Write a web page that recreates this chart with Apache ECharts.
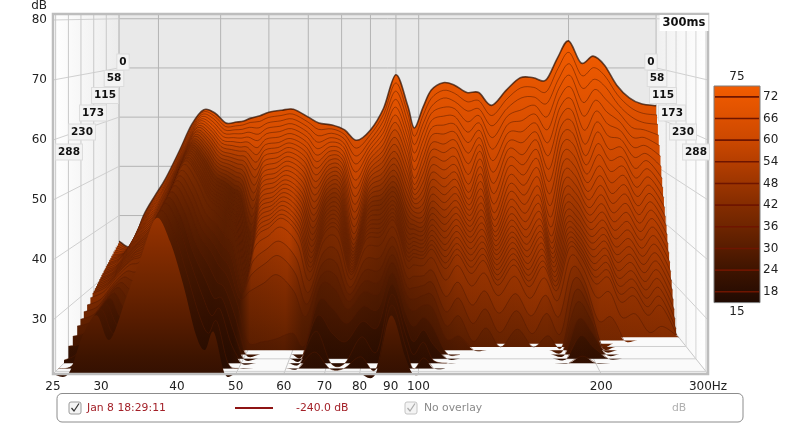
<!DOCTYPE html>
<html><head><meta charset="utf-8">
<style>html,body{margin:0;padding:0;background:#fff}#c{width:800px;height:424px}</style>
<script src="https://cdn.jsdelivr.net/npm/echarts@6/dist/echarts.min.js"></script>
</head><body><div id="c"></div>
<script>
const sliceTimes=[0,5,10,15,20,25,30,35,40,45,50,55,60,65,70,75,80,85,90,95,100,105,110,115,120,130,145,160,175,190,210,230,250,275,300];
const freqs=[25,26.5,28,29.5,31,33,35,37,39,41,43,44.5,46,48,50,53,56,60,63,67,71,75,80,85,90,95,98,102,106,112,118,125,132,140,150,160,170,180,190,200,212,224,236,250,265,280,300];
const f25=[34.8,34.5,34.2,34,33.7,33.5,33.2,33,32.7,32.5,32.2,32,31.8,31.5,31.3,31,30.8,30.5,30.3,30,29.8,29.5,29.3,29,28.8,28.3,27.5,26.8,26,25.3,24.2,23.2,21.5,20,20];
const f26_5=[33.8,33.8,33.8,33.8,33.7,33.6,33.6,33.6,33.6,33.5,33.3,33.2,33,32.7,32.4,32.2,32,31.7,31.5,31.3,31,30.8,30.5,30.3,30,29.5,28.6,27.8,27,26.2,25.2,24,23,21.8,21];
const f28=[40,39.6,39.2,38.8,38.5,38.2,37.8,37.5,37.2,37,36.6,36.3,36,35.7,35.4,35.1,34.8,34.6,34.3,34,33.8,33.5,33.3,33,32.8,32.3,31.6,31,30.4,29.8,29.2,28.7,28.3,27.9,27.5];
const f29_5=[44,43.5,43,42.5,42,41.6,41.2,40.7,40.3,39.9,39.5,39.1,38.7,38.3,38,37.6,37.3,37,36.7,36.4,36,35.8,35.5,35.2,35,34.4,33.7,33.1,32.6,32.2,31.8,31.5,31.2,31,30.8];
const f31=[47.5,47,46.4,45.8,45.3,44.8,44.2,43.7,43.2,42.7,42.2,41.8,41.3,40.8,40.3,39.9,39.5,39,38.6,38.2,37.8,37.3,36.9,36.5,36.1,35.3,34,32.8,31.6,30.5,29.3,28.3,27.6,27,26.7];
const f33=[53,52.5,52,51.4,50.9,50.4,49.8,49.3,48.8,48.3,47.8,47.3,46.8,46.3,45.9,45.4,45,44.5,44.1,43.7,43.3,42.9,42.5,42.1,41.7,41,39.9,38.9,38,37.2,36.3,35.5,34.9,34.2,33.7];
const f35=[58.5,58,57.5,57,56.5,56,55.5,55,54.6,54.1,53.7,53.2,52.8,52.4,52,51.6,51.2,50.8,50.4,50,49.6,49.3,49,48.6,48.3,47.6,46.7,45.8,45,44.3,43.5,42.8,42.2,41.5,40.8];
const f37=[61.5,61.1,60.7,60.3,59.9,59.6,59.2,58.8,58.5,58.1,57.8,57.4,57.1,56.7,56.4,56.1,55.8,55.5,55.2,54.9,54.6,54.3,54,53.8,53.5,53,52.2,51.5,50.9,50.3,49.6,49,48.4,47.7,47];
const f39=[60.8,60.3,59.8,59.3,58.8,58.3,57.9,57.4,57,56.5,56.1,55.6,55.2,54.8,54.4,54,53.6,53.2,52.9,52.5,52.2,51.8,51.5,51.2,50.9,50.3,49.4,48.6,47.9,47.2,46.4,45.7,45,44,43];
const f41=[58.8,58.2,57.6,57,56.4,55.8,55.3,54.7,54.1,53.6,53,52.5,52,51.5,51,50.5,50,49.5,49,48.6,48.1,47.7,47.3,46.9,46.5,45.7,44.5,43.5,42.5,41.7,40.5,39.4,38.3,37,35.8];
const f43=[59,58.3,57.6,56.9,56.2,55.5,54.8,54.1,53.4,52.8,52.2,51.6,51,50.4,49.8,49.2,48.7,48.1,47.6,47.1,46.6,46.1,45.6,45.1,44.6,43.7,42.3,41,39.8,38.7,36.9,34.8,32.5,30,27.5];
const f44_5=[59.2,58.5,57.7,56.9,56.1,55.3,54.5,53.8,53,52.3,51.6,50.9,50.2,49.5,48.8,48.1,47.5,46.9,46.3,45.7,45.1,44.5,44,43.4,42.9,41.8,40.3,38.8,37.4,36,33.9,31.6,29.2,27,25];
const f46=[59.8,59,58.1,57.2,56.3,55.4,54.5,53.6,52.7,51.8,51,50.1,49.3,48.5,47.7,46.9,46.2,45.5,44.8,44.1,43.4,42.8,42.2,41.6,41,39.9,38.3,36.8,35.4,34.1,32.6,31.4,30.3,29,28];
const f48=[60.3,59.2,58,56.8,55.6,54.3,53,51.6,50.2,48.8,47.4,46,44.6,43.2,41.8,40.4,39,37.7,36.4,35.1,33.9,33,32.3,31.8,31.4,31,30.6,30.2,29.7,29,27.5,26,24.5,22,20];
const f50=[61,60,59,58,57,56,55,54,53,52,51,50,49.1,48.2,47.3,46.4,45.5,44.6,43.8,42.9,42.1,41.3,40.5,39.7,39,37.6,35.5,33.5,31,22.5,20,20,20,20,20];
const f53=[61.4,60.4,59.4,58.4,57.4,56.4,55.4,54.5,53.6,52.7,51.8,50.9,50,49.2,48.4,47.6,46.8,46,45.3,44.6,43.9,43.2,42.5,41.8,41.1,39.8,37.8,35.6,32.5,22.5,20,20,20,20,20];
const f56=[61.6,60.7,59.8,58.9,58,57.1,56.2,55.4,54.6,53.8,53,52.2,51.4,50.6,49.8,49,48.3,47.6,46.9,46.2,45.5,44.8,44.1,43.4,42.8,41.4,39.2,37,34,23,20,20,20,20,20];
const f60=[60,59.1,58.2,57.3,56.4,55.5,54.6,53.7,52.8,51.9,51,50.1,49.2,48.3,47.4,46.5,45.7,44.9,44.1,43.3,42.5,41.7,41,40.3,39.6,38.2,36,33.8,31,24,21,20,20,20,20];
const f63=[58.8,57.6,56.4,55.2,54,52.8,51.6,50.4,49.2,48,46.8,45.6,44.4,43.2,42.1,41,39.9,38.8,37.8,36.8,35.8,35,34.2,33.5,32.8,31.5,29.8,28.2,26.5,22,20,20,20,20,20];
const f67=[58.4,57.7,56.9,56.1,55.3,54.5,53.7,52.9,52.1,51.3,50.5,49.7,48.9,48.1,47.3,46.5,45.7,44.9,44.1,43.4,42.7,42,41.3,40.6,40,38.8,37,35.4,33.8,32.3,30.4,28.5,26.5,23.8,21];
const f71=[57.4,56.6,55.8,55,54.3,53.5,52.7,52,51.3,50.5,49.8,49.1,48.4,47.7,47,46.3,45.6,44.9,44.2,43.5,42.9,42.3,41.7,41.1,40.5,39.3,37.6,35.8,34,32,29,25.5,21,20,20];
const f75=[55.3,53.8,52.3,50.8,49.3,47.8,46.3,44.8,43.4,42,40.7,39.4,38.2,37.2,36.4,35.8,35.3,34.8,34.4,34,33.6,33.2,32.9,32.6,32.3,31.7,30.8,30,29.2,28.3,26.5,24,21,20,20];
const f80=[57.4,56.5,55.5,54.6,53.7,52.8,51.9,51,50.1,49.3,48.5,47.7,46.9,46.1,45.4,44.7,44,43.3,42.6,41.9,41.2,40.6,40,39.4,38.8,37.6,35.9,34.3,32.8,31.4,29.5,27.5,25.5,23,20];
const f85=[61.8,60.6,59.4,58.2,57.1,56,54.9,53.8,52.8,51.8,50.8,49.8,48.9,48,47.1,46.2,45.4,44.6,43.8,43,42.2,41.5,40.8,40.1,39.4,38.1,36.2,34.4,32.7,31.1,29,26.5,23,20,20];
const f90=[68.6,67,65.4,63.8,62.3,60.8,59.4,58,56.6,55.3,54,52.8,51.7,50.6,49.6,48.6,47.7,46.9,46.1,45.4,44.7,44.1,43.5,42.9,42.4,41.4,40,38.7,37.6,36.6,35.3,34,32.8,31.7,30.7];
const f95=[62.4,60.9,59.4,57.9,56.5,55.1,53.8,52.4,51,49.7,48.4,47.2,46,44.8,43.7,42.6,41.6,40.6,39.6,38.7,37.8,37.1,36.4,35.8,35.2,34.2,32.9,31.7,30.6,29.6,28.4,27.2,26.1,25,24];
const f98=[57.8,56.2,54.6,53,51.4,49.8,48.3,47.2,46.3,45.5,44.7,44,43.3,42.6,41.9,41.2,40.5,39.8,39.1,38.5,37.9,37.3,36.7,36.1,35.6,34.4,32.8,31.2,29.6,28,26,24,22.5,20.5,20];
const f102=[62,60.4,58.8,57.2,55.6,54,52.4,50.9,49.4,47.9,46.5,45.2,44,42.9,41.9,41,40.2,39.5,38.8,38.1,37.5,36.9,36.3,35.8,35.3,34.3,32.9,31.6,30.3,29,27.5,26,24.6,22.8,21];
const f106=[65.5,63.9,62.3,61,59.6,58.2,56.8,55.4,54.1,52.7,51.3,50,48.7,47.4,46.1,44.9,43.8,42.8,41.8,40.9,40,39.2,38.4,37.7,37,35.7,33.8,32,30.2,28.4,25.8,23.5,21.5,20,20];
const f112=[67,65.5,64,62.2,60.5,58.8,57.1,55.2,53.6,52,50.4,48.8,47.3,45.9,44.5,43.2,41.9,40.7,39.5,38.4,37.3,36.3,35.3,34.3,33.4,31.6,29.1,26.8,24.8,23,21.2,20,20,20,20];
const f118=[66.5,64.9,63.3,61.9,60.4,58.9,57.4,55.9,54.4,52.8,51.3,50,48.7,47.4,46.2,45,43.9,42.8,41.8,40.8,39.8,38.8,37.8,36.9,36,34.3,31.7,29.3,26.6,23.5,20,20,20,20,20];
const f125=[65,63.2,61.4,59.3,57.3,55.3,53.3,51.3,49.3,47.5,46,44.8,43.8,42.9,42,41.1,40.2,39.3,38.4,37.5,36.5,35.5,34.5,33.5,32.5,30.5,27.5,24.7,22,20,20,20,20,20,20];
const f132=[65,63.4,61.8,60.5,59.1,57.7,56.3,55,53.8,52.4,51,49.7,48.3,47,45.7,44.5,43.3,42.2,41.1,40,38.9,37.9,36.9,35.9,34.9,32.9,30.1,27.3,24.4,21,20,20,20,20,20];
const f140=[62.4,60.4,58.4,56.1,53.9,51.7,49.5,47.4,45.5,43.6,42,40.7,39.6,38.7,38,37.3,36.5,35.8,35.1,34.3,33.5,32.7,31.9,31.1,30.3,28.7,26,23,20,20,20,20,20,20,20];
const f150=[65.5,63.7,61.9,60.4,58.8,57.2,55.6,54.2,52.6,51,49.4,47.8,46.4,45,43.7,42.5,41.4,40.4,39.4,38.6,37.7,36.8,35.9,35,34.1,32.3,29.6,27,24.2,20.8,20,20,20,20,20];
const f160=[68,66,64,61.7,59.6,57.5,55.4,53.1,51.2,49.3,47.4,45.6,43.9,42.3,40.8,39.4,38.1,36.9,35.8,34.8,33.7,32.7,31.8,30.9,30,28.2,25.5,22.8,20,20,20,20,20,20,20];
const f170=[68,66.1,64.2,62.6,60.9,59.2,57.5,56,54.2,52.5,50.8,49.1,47.4,45.8,44.3,42.9,41.6,40.5,39.5,38.6,37.6,36.6,35.6,34.7,33.8,32,29.3,26.5,23,20.5,20,20,20,20,20];
const f180=[67.5,65.2,62.9,60.3,57.8,55.3,52.8,50.2,47.9,45.6,43.4,41.3,39.5,37.9,36.7,35.8,35,34.3,33.6,32.9,32.1,31.4,30.7,30,29.3,27.8,25.4,22.8,20,20,20,20,20,20,20];
const f190=[72,69.9,67.8,66,64.1,62.3,60.5,58.7,57,55.3,53.6,51.9,50.2,48.6,47.1,45.7,44.4,43.2,42.1,41.2,40.3,39.5,38.7,38,37.3,36,34.3,32.6,31,29.4,27.2,25,22.2,20,20];
const f200=[75.5,73.2,70.9,68.6,66.3,64,61.8,59.6,57.4,55.3,53.2,51.3,49.5,47.8,46.2,44.7,43.3,42,40.8,39.8,38.8,37.9,37,36.2,35.4,33.9,32,30.3,28.7,27,25,23,20.8,20,20];
const f212=[71,68.5,66,63.2,60.5,57.8,55.1,52.9,51.2,49.5,47.9,46.3,44.8,43.4,42.1,40.8,39.6,38.4,37.3,36.2,35,33.9,32.8,31.7,30.6,28.4,24.7,20.7,20,20,20,20,20,20,20];
const f224=[72.4,70.1,67.8,65.8,63.7,61.6,59.5,57.6,55.4,53.3,51.2,49.4,47.6,45.9,44.3,42.8,41.4,40.1,38.9,37.8,36.6,35.4,34.2,33,31.8,29.4,25.3,20.5,20,20,20,20,20,20,20];
const f236=[70.6,68.4,66.2,63.7,61.3,59,56.7,54.2,52.1,50,47.9,45.9,44.1,42.4,40.8,39.3,37.8,36.4,35.1,33.8,32.4,31.1,29.8,28.5,27.2,24.7,20.2,20,20,20,20,20,20,20,20];
const f250=[66.5,64.6,62.7,61.1,59.4,57.7,56,54.5,52.7,51,49.3,47.6,45.9,44.2,42.6,41,39.5,38,36.6,35.3,33.9,32.5,31.1,29.7,28.3,25.3,20.5,20,20,20,20,20,20,20,20];
const f265=[63.9,62.1,60.3,58.2,56.3,54.4,52.5,50.4,48.6,46.9,45.2,43.5,41.9,40.4,38.9,37.4,36,34.6,33.2,31.8,30.3,28.9,27.5,26.1,24.7,21.9,20,20,20,20,20,20,20,20,20];
const f280=[62.7,60.9,59.1,57.7,56.2,54.7,53.2,51.9,50.4,48.9,47.4,45.9,44.4,42.9,41.4,39.9,38.4,36.9,35.4,34,32.5,31,29.5,28,26.5,23,20,20,20,20,20,20,20,20,20];
const f300=[62.3,60.5,58.7,56.6,54.6,52.6,50.6,48.4,46.6,44.8,43,41.3,39.7,38.1,36.5,34.9,33.3,31.7,30.1,28.5,26.8,25.2,23.6,22,20.4,20,20,20,20,20,20,20,20,20,20];
const columns=[f25,f26_5,f28,f29_5,f31,f33,f35,f37,f39,f41,f43,f44_5,f46,f48,f50,f53,f56,f60,f63,f67,f71,f75,f80,f85,f90,f95,f98,f102,f106,f112,f118,f125,f132,f140,f150,f160,f170,f180,f190,f200,f212,f224,f236,f250,f265,f280,f300];
const xTicks=[25,30,40,50,60,70,80,90,100,200,300];
const yTicks=[30,40,50,60,70,80];
const wallTimes=[0,58,115,173,230,288];
const timeLabels=['0','58','115','173','230','288'];
const colourTicks=[18,24,30,36,42,48,54,60,66,72];
const colourEnds=[15,75];

// projection of the time axis (oblique depth towards a vanishing point)
const VX=420,VY=13,KB=.82,TMAX=300,FLOOR=21,TOP=81;
const kOf=t=>KB+(1-KB)*t/TMAX;
const stops=[[75,'#f25c00'],[66,'#dc5000'],[60,'#cc4800'],[54,'#b53e00'],[48,'#9c3500'],[42,'#842c00'],[36,'#6e2500'],[30,'#571c00'],[24,'#3e1400'],[18,'#2a0d02'],[15,'#1f0a02']];
const ramp=stops.map(s=>({offset:(75-s[0])/60,color:s[1]}));
// brown shading across the frequency range, deepening with decay time
const shadeFreqs=[25,30,34,39,44,48,50,58,62,67,75,85,95,106,118,140,170,185,200,215,300];
const shadeLevels=[.15,.3,.35,.5,.6,.55,.1,0,.3,.4,.35,.45,.4,.3,.12,.08,.03,.15,.2,.05,0];

function segPath(ctx,p,start){
  for(let i=0;i<p.length-1;i++){
    const a=p[Math.max(i-1,0)],b=p[i],c=p[i+1],d=p[Math.min(i+2,p.length-1)];
    if(start&&i===0)ctx.moveTo(b[0],b[1]);
    ctx.bezierCurveTo(b[0]+(c[0]-a[0])/6,b[1]+(c[1]-a[1])/6,c[0]-(d[0]-b[0])/6,c[1]-(d[1]-b[1])/6,c[0],c[1]);
  }
}
echarts.graphic.registerShape('sliceFill',echarts.graphic.extendShape({
  shape:{top:[],base:[]},
  buildPath(ctx,s){ segPath(ctx,s.top,true); ctx.lineTo(s.base[1][0],s.base[1][1]); ctx.lineTo(s.base[0][0],s.base[0][1]); ctx.closePath(); }
}));
echarts.graphic.registerShape('sliceLine',echarts.graphic.extendShape({
  shape:{runs:[]},
  buildPath(ctx,s){ s.runs.forEach(r=>segPath(ctx,r,true)); }
}));

function proj(api,f,db,t){
  const c=api.coord([f,db]),k=kOf(t);
  return [VX+k*(c[0]-VX),VY+k*(c[1]-VY)];
}
function lift(t){return t<=130?21:t>=230?0:21*(230-t)/100;}
function renderSlice(params,api){
  const i=params.dataIndex,t=sliceTimes[i];
  const vals=columns.map(col=>col[i]);
  const top=freqs.map((f,j)=>proj(api,f,Math.max(vals[j],FLOOR),t));
  const runs=[];let run=null;
  for(let j=0;j<top.length;j++){
    const up=vals[j]>FLOOR||(j>0&&vals[j-1]>FLOOR)||(j<top.length-1&&vals[j+1]>FLOOR);
    if(up){(run=run||[]).push(top[j]);}else if(run){runs.push(run);run=null;}
  }
  if(run)runs.push(run);
  const base=[proj(api,25,FLOOR,t),proj(api,300,FLOOR,t)];
  const o=lift(t),db15=(15-75*o/54)/(1-o/54);
  const y75=proj(api,100,75,t)[1],y15=proj(api,100,db15,t)[1];
  const last=i===sliceTimes.length-1;
  const depth=last?0:Math.min(1,Math.max(0,(t-20)/60));
  const shade={type:'linear',x:base[0][0],y:0,x2:base[1][0],y2:0,global:true,
    colorStops:shadeFreqs.map((f,j)=>({offset:Math.log(f/25)/Math.log(12),color:'rgba(28,8,0,'+(shadeLevels[j]*depth)+')'}))};
  return {type:'group',children:[
    {type:'sliceFill',shape:{top,base},style:{fill:{type:'linear',x:0,y:y75,x2:0,y2:y15,global:true,colorStops:ramp}}},
    {type:'sliceFill',shape:{top,base},style:{fill:shade}},
    {type:'sliceLine',shape:{runs},style:{fill:null,stroke:i===0?'#2a0d00':'#4f1800',lineWidth:i===0?1.6:.7,opacity:last?0:.7}}
  ]};
}
function line(a,b,c,w){return {type:'line',shape:{x1:a[0],y1:a[1],x2:b[0],y2:b[1]},style:{stroke:c||'#c8c8c8',lineWidth:w||1}};}
function poly(pts,fill){return {type:'polygon',shape:{points:pts},style:{fill}};}
function renderWalls(params,api){
  const L=25,R=300,ch=[];
  const A=proj(api,L,TOP,0),B=proj(api,R,TOP,0),C=proj(api,R,FLOOR,0),D=proj(api,L,FLOOR,0);
  const A1=proj(api,L,TOP,TMAX),B1=proj(api,R,TOP,TMAX),C1=proj(api,R,FLOOR,TMAX),D1=proj(api,L,FLOOR,TMAX);
  ch.push(poly([A,B,C,D],'#e9e9e9'));
  ch.push(poly([A1,A,D,D1],{type:'linear',x:A1[0],y:0,x2:A[0],y2:0,global:true,colorStops:[{offset:0,color:'#ffffff'},{offset:1,color:'#ececec'}]}));
  ch.push(poly([B,B1,C1,C],{type:'linear',x:B[0],y:0,x2:B1[0],y2:0,global:true,colorStops:[{offset:0,color:'#f0f0f0'},{offset:1,color:'#ffffff'}]}));
  ch.push(poly([D,C,C1,D1],'#fafafa'));
  xTicks.forEach(f=>{
    ch.push(line(proj(api,f,TOP,0),proj(api,f,FLOOR,0),'#b4b4b4'));
    ch.push(line(proj(api,f,FLOOR,0),proj(api,f,FLOOR,TMAX),'#c8c8c8'));
  });
  yTicks.forEach(d=>{
    ch.push(line(proj(api,L,d,0),proj(api,R,d,0),'#b4b4b4'));
    ch.push(line(proj(api,L,d,0),proj(api,L,d,TMAX),'#d0d0d0'));
    ch.push(line(proj(api,R,d,0),proj(api,R,d,TMAX),'#d0d0d0'));
  });
  wallTimes.forEach(t=>{
    ch.push(line(proj(api,L,TOP,t),proj(api,L,FLOOR,t),'#c8c8c8'));
    ch.push(line(proj(api,R,TOP,t),proj(api,R,FLOOR,t),'#d4d4d4'));
    ch.push(line(proj(api,L,FLOOR,t),proj(api,R,FLOOR,t),'#cfcfcf'));
  });
  return {type:'group',children:ch};
}
function renderFrame(params,api){
  const a=api.coord([25,FLOOR]),b=api.coord([300,TOP]);
  return {type:'rect',shape:{x:a[0],y:b[1],width:b[0]-a[0],height:a[1]-b[1]},style:{fill:null,stroke:'#bdbdbd',lineWidth:2.5}};
}
function renderBar(params,api){
  const a=api.coord([0,15]),b=api.coord([1,75]),ch=[];
  ch.push({type:'rect',shape:{x:a[0],y:b[1],width:b[0]-a[0],height:a[1]-b[1]},style:{fill:{type:'linear',x:0,y:b[1],x2:0,y2:a[1],global:true,colorStops:ramp},stroke:'#7d7d7d',lineWidth:1}});
  colourTicks.forEach(v=>{const p=api.coord([0,v]),q=api.coord([1,v]);ch.push(line([p[0]+1,p[1]],[q[0]-1,q[1]],'#6e1500',1.6));});
  colourEnds.forEach(v=>{const p=api.coord([.5,v]);ch.push({type:'text',x:p[0],y:p[1]+(v===75?-9:9),style:{text:String(v),font:'12px "DejaVu Sans"',fill:'#222',align:'center',verticalAlign:'middle'}});});
  return {type:'group',children:ch};
}

const txt={fontFamily:'DejaVu Sans',fontSize:12,color:'#222'};
const labelBoxesLeft=[[123,62],[114,78.5],[105,95.5],[93,113],[82,132],[69,152]];
const labelBoxesRight=[[651,62],[657,78.5],[663,95.5],[672,113],[683,132],[696,152]];
const boxed=(text,p)=>({type:'text',z:20,x:p[0],y:p[1],style:{text,font:'bold 10.5px "DejaVu Sans"',fill:'#111',align:'center',verticalAlign:'middle',backgroundColor:'#f3f3f3',borderColor:'#dcdcdc',borderWidth:1,padding:[2,2,2,2]}});
const small=(text,x,fill)=>({type:'text',z:20,x,y:408,style:{text,font:'10.8px "DejaVu Sans"',fill,verticalAlign:'middle'}});
const checkbox=(x,c,b)=>[
  {type:'rect',z:20,shape:{x,y:402,width:12,height:12,r:2},style:{fill:'#f4f4f4',stroke:b,lineWidth:1}},
  {type:'polyline',z:21,shape:{points:[[x+2.5,408],[x+5,411],[x+10,403.5]]},style:{fill:null,stroke:c,lineWidth:1.2}}
];
const graphics=[
  ...timeLabels.map((s,i)=>boxed(s,labelBoxesLeft[i])),
  ...timeLabels.map((s,i)=>boxed(s,labelBoxesRight[i])),
  {type:'text',z:20,x:684,y:23,style:{text:'300ms',font:'bold 11.5px "DejaVu Sans"',fill:'#111',align:'center',verticalAlign:'middle',backgroundColor:'#fff',padding:[2,3,2,3]}},
  {type:'rect',z:19,shape:{x:57,y:393.5,width:686,height:28.5,r:5},style:{fill:'#fff',stroke:'#8c8c8c',lineWidth:1}},
  ...checkbox(69,'#333','#9a9a9a'),
  small('Jan 8 18:29:11',87,'#a32028'),
  {type:'line',z:20,shape:{x1:235,y1:408,x2:273,y2:408},style:{stroke:'#8e1414',lineWidth:2}},
  small('-240.0 dB',296,'#a32028'),
  ...checkbox(405,'#aaa','#c4c4c4'),
  small('No overlay',424,'#8a8a8a'),
  small('dB',672,'#b0b0b0')
];

const chart=echarts.init(document.getElementById('c'),null,{renderer:'canvas'});
chart.setOption({
  animation:false,backgroundColor:'#fff',
  grid:[{left:53,top:14,width:655,height:360},{left:714,top:86,width:46,height:216.6}],
  xAxis:[
    {type:'log',logBase:10,min:25,max:300,gridIndex:0,axisLine:{show:false},axisTick:{show:false},splitLine:{show:false},minorSplitLine:{show:false},
     axisLabel:Object.assign({},txt,{customValues:xTicks,margin:7,hideOverlap:false,showMinLabel:true,showMaxLabel:true,formatter:v=>Math.round(v)===300?'300Hz':String(Math.round(v))})},
    {type:'value',min:0,max:1,gridIndex:1,show:false}
  ],
  yAxis:[
    {type:'value',min:FLOOR,max:TOP,gridIndex:0,name:'dB',nameLocation:'end',nameGap:2,nameTextStyle:Object.assign({},txt,{align:'right',padding:[0,6,0,0]}),axisLine:{show:false},axisTick:{show:false},splitLine:{show:false},
     axisLabel:Object.assign({},txt,{customValues:yTicks,margin:6,padding:[4,0,0,0]})},
    {type:'value',min:15,max:75,gridIndex:1,position:'right',axisLine:{show:false},axisTick:{show:false},splitLine:{show:false},
     axisLabel:Object.assign({},txt,{customValues:colourTicks,margin:3,padding:[4,0,0,0]})}
  ],
  series:[
    {type:'custom',xAxisIndex:0,yAxisIndex:0,z:1,clip:false,silent:true,renderItem:renderWalls,data:[[25,FLOOR]]},
    {type:'custom',xAxisIndex:0,yAxisIndex:0,z:2,clip:false,silent:true,progressive:0,renderItem:renderSlice,data:sliceTimes.map(()=>[25,FLOOR])},
    {type:'custom',xAxisIndex:0,yAxisIndex:0,z:3,clip:false,silent:true,renderItem:renderFrame,data:[[25,FLOOR]]},
    {type:'custom',xAxisIndex:1,yAxisIndex:1,z:2,clip:false,silent:true,renderItem:renderBar,data:[[0,15]]}
  ],
  graphic:graphics
});
</script></body></html>
